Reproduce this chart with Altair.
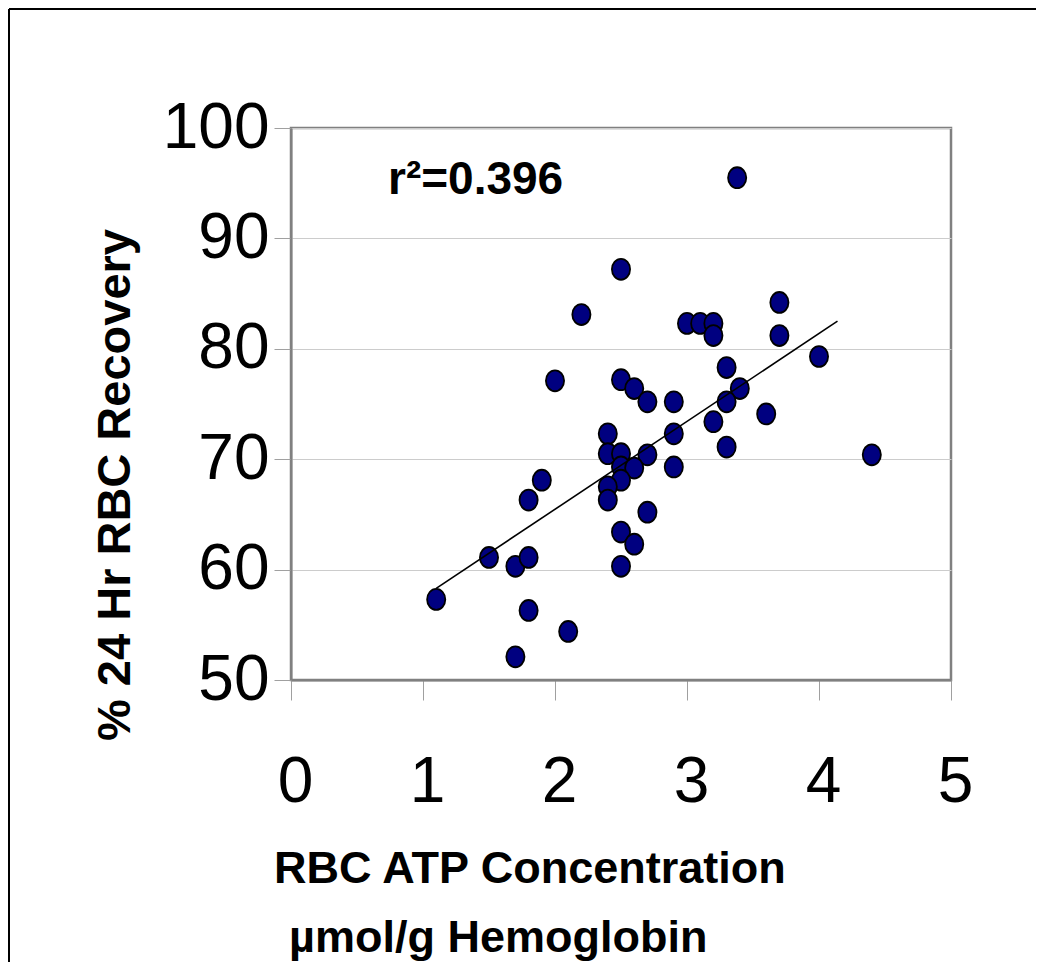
import altair as alt
import pandas as pd

# ---- data ----
atp = [3.38, 2.5, 2.2, 3.0, 3.1, 3.2, 3.2, 3.7, 3.7, 4.0, 3.3, 3.4, 3.3, 3.2, 3.6,
       3.3, 4.4, 2.0, 2.5, 2.6, 2.7, 2.9, 2.9, 2.4, 2.4, 2.5, 2.7, 2.5, 2.6, 2.9,
       2.5, 2.4, 2.4, 1.9, 1.8, 2.7, 2.5, 2.6, 2.5, 1.5, 1.7, 1.8, 1.1, 1.8, 2.1, 1.7]
recovery = [95.5, 87.2, 83.1, 82.3, 82.3, 82.3, 81.2, 84.2, 81.2, 79.3, 78.3, 76.4, 75.2, 73.4, 74.1,
            71.1, 70.4, 77.1, 77.2, 76.4, 75.2, 75.2, 72.3, 72.3, 70.5, 70.5, 70.4, 69.3, 69.2, 69.3,
            68.1, 67.5, 66.3, 68.1, 66.3, 65.2, 63.4, 62.3, 60.3, 61.1, 60.3, 61.1, 57.3, 56.3, 54.4, 52.1]
trend_atp = [1.1, 4.14]
trend_recovery = [58.3, 82.5]
note_text = ["r²=0.396"]
x_title_lines = ["RBC ATP Concentration", "µmol/g Hemoglobin"]
y_title = ["% 24 Hr RBC Recovery"]
x_ticks = [0, 1, 2, 3, 4, 5]
y_ticks = [50, 60, 70, 80, 90, 100]

# ---- layout ----
W, H = 660, 552
PAD_L, PAD_T = 283, 120
PAD_R = 1028 - W - PAD_L
PAD_B = 954 - H - PAD_T
FONT = "Liberation Sans"
ELLIPSE = "M-1,0A1,1.15,0,1,1,1,0A1,1.15,0,1,1,-1,0Z"

x_scale = alt.Scale(domain=[0, 5], nice=False, zero=False)
y_scale = alt.Scale(domain=[50, 100], nice=False, zero=False)

x_axis = alt.Axis(values=x_ticks, title=None, labelFontSize=64, labelFont=FONT,
                  labelColor="black", labelPadding=50, labelOffset=4, tickSize=20,
                  tickColor="#a0a0a0", tickWidth=1, domainColor="#808080", domainWidth=2,
                  grid=False, labelFlush=False, format="d")
y_axis = alt.Axis(values=y_ticks, title=None, labelFontSize=64, labelFont=FONT,
                  labelColor="black", labelPadding=5, tickSize=17, tickColor="#a0a0a0",
                  tickWidth=1, domainColor="#808080", domainWidth=2, grid=True,
                  gridColor="#cccccc", gridWidth=1, labelFlush=False, format="d")

pts = pd.DataFrame({"atp": atp, "rec": recovery})
points = alt.Chart(pts).mark_point(
    shape=ELLIPSE, filled=True, size=330, fill="#000080", fillOpacity=1, opacity=1,
    stroke="black", strokeWidth=1.8, strokeOpacity=1
).encode(
    x=alt.X("atp:Q", scale=x_scale, axis=x_axis),
    y=alt.Y("rec:Q", scale=y_scale, axis=y_axis),
)

trend = alt.Chart(pd.DataFrame({"atp": trend_atp, "rec": trend_recovery})).mark_line(
    color="black", strokeWidth=1.6
).encode(x="atp:Q", y="rec:Q")

note = alt.Chart(pd.DataFrame({"t": note_text})).mark_text(
    align="left", baseline="alphabetic", fontSize=46, fontWeight="bold", font=FONT, color="black"
).encode(x=alt.value(97), y=alt.value(66), text="t:N")

ytitle = alt.Chart(pd.DataFrame({"t": y_title})).mark_text(
    align="center", baseline="alphabetic", angle=270, fontSize=47, fontWeight="bold",
    font=FONT, color="black"
).encode(x=alt.value(-161), y=alt.value(357), text="t:N")

xtitle1 = alt.Chart(pd.DataFrame({"t": [x_title_lines[0]]})).mark_text(
    align="left", baseline="alphabetic", fontSize=45, fontWeight="bold", font=FONT, color="black"
).encode(x=alt.value(-17), y=alt.value(755), text="t:N")

xtitle2 = alt.Chart(pd.DataFrame({"t": [x_title_lines[1]]})).mark_text(
    align="left", baseline="alphabetic", fontSize=45, fontWeight="bold", font=FONT, color="black"
).encode(x=alt.value(-2), y=alt.value(824), text="t:N")

frame_src = pd.DataFrame({"k": [0]})
frame_top = alt.Chart(frame_src).mark_rule(color="black", strokeWidth=2).encode(
    x=alt.value(-282), x2=alt.value(800), y=alt.value(-119))
frame_left = alt.Chart(frame_src).mark_rule(color="black", strokeWidth=2).encode(
    x=alt.value(-282), y=alt.value(-119), y2=alt.value(900))

chart = alt.layer(
    points, trend, note, ytitle, xtitle1, xtitle2, frame_top, frame_left
).properties(
    width=W, height=H,
    background="white",
    autosize=alt.AutoSizeParams(type="none"),
    padding={"left": PAD_L, "top": PAD_T, "right": PAD_R, "bottom": PAD_B},
).configure_view(
    stroke="#808080", strokeWidth=2.5
)

chart.save("out.html", embed_options={"renderer": "svg", "actions": False})
